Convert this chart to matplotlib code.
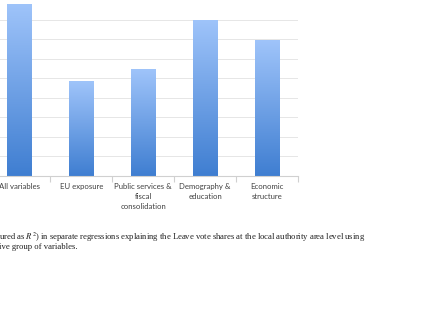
import numpy as np
import matplotlib
matplotlib.use("Agg")
import matplotlib.pyplot as plt
from matplotlib.colors import LinearSegmentedColormap

categories = ["All variables", "EU exposure", "Public services &\nfiscal\nconsolidation",
              "Demography &\neducation", "Economic\nstructure"]
r_squared = [0.88, 0.485, 0.545, 0.80, 0.695]
grid_values = [0.1, 0.2, 0.3, 0.4, 0.5, 0.6, 0.7, 0.8]

caption_1 = "ured as $R^2$) in separate regressions explaining the Leave vote shares at the local authority area level using"
caption_2 = "ive group of variables."


def main():
    plt.rcParams["mathtext.fontset"] = "stix"
    fig = plt.figure(figsize=(4.23, 3.23), dpi=100)
    ax = fig.add_axes([-0.0272, 0.455, 0.7317, 0.545])

    x = np.arange(len(categories))
    bars = ax.bar(x, r_squared, width=0.395, color="none", edgecolor="none", zorder=2)

    # vertical gradient, light on top, darker at the bottom
    cmap = LinearSegmentedColormap.from_list("grad", ["#3f7ed1", "#9fc4fa"])
    grad = np.linspace(0, 1, 256).reshape(-1, 1)
    for b in bars:
        x0, y0 = b.get_x(), b.get_y()
        w, h = b.get_width(), b.get_height()
        im = ax.imshow(grad, cmap=cmap, origin="lower", aspect="auto",
                       extent=[x0, x0 + w, y0, y0 + h], zorder=2)
        im.set_clip_path(b)

    ax.set_xlim(-0.5, len(categories) - 0.5)
    ax.set_ylim(0, 0.9)
    for g in grid_values:
        ax.axhline(g, color="#e6e6e6", lw=0.7, zorder=1)

    for s in ["top", "right", "left"]:
        ax.spines[s].set_visible(False)
    ax.spines["bottom"].set_color("#d0d0d0")
    ax.spines["bottom"].set_linewidth(0.8)
    ax.set_yticks([])

    ax.set_xticks(x)
    ax.set_xticklabels(categories, fontsize=5.6, color="#404040",
                       family="Lato", linespacing=1.5)
    ax.tick_params(axis="x", length=0, pad=5)
    ax.set_xticks(np.arange(len(categories)) + 0.5, minor=True)
    ax.tick_params(axis="x", which="minor", length=4, color="#d0d0d0", width=0.8)

    fig.text(-0.002, 0.264, caption_1, fontsize=6.2, family="Liberation Serif",
             color="#202020", ha="left", va="center")
    fig.text(-0.002, 0.234, caption_2, fontsize=6.2, family="Liberation Serif",
             color="#202020", ha="left", va="center")

    fig.savefig("out.png", dpi=100)


if __name__ == "__main__":
    main()
